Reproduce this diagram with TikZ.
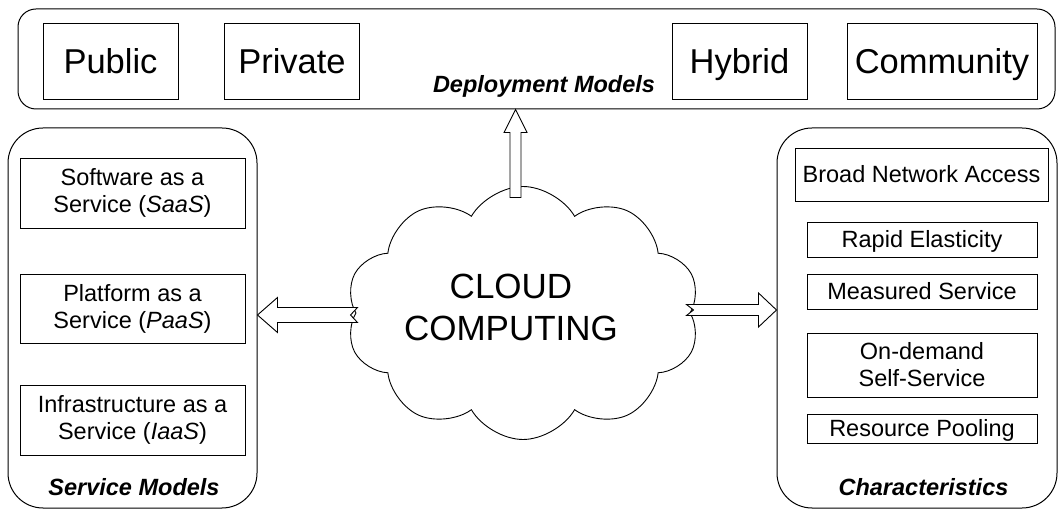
\documentclass[tikz,border=0pt]{standalone}
\usepackage{fontspec}
\setmainfont{Liberation Sans}
\usetikzlibrary{shapes.symbols}
\tikzstyle{panel}=[draw, line width=1pt]
\tikzstyle{itemBox}=[draw, line width=0.9pt, inner sep=0pt, align=center, font=\fontsize{23.5}{27}\selectfont]
\tikzstyle{oneLine}=[itemBox, text height=17pt, text depth=0pt]
\tikzstyle{depBox}=[itemBox, minimum height=76pt, text height=25pt, text depth=0pt, font=\fontsize{34.5}{40}\selectfont]
\tikzstyle{panelTitle}=[anchor=base, inner sep=0pt, font=\fontsize{23.5}{27}\selectfont\bfseries\itshape]
\tikzstyle{blockArrow}=[draw, fill=white, line width=0.9pt]
\newcommand{\dep}[4]{\node[depBox, minimum width=#3pt] (#1) at (#2,61) {#4}}
\newcommand{\chr}[4]{\node[oneLine, minimum width=230pt, minimum height=#3pt] (#1) at (922,#2) {#4}}

\begin{document}
\begin{tikzpicture}[x=1pt,y=-1pt]
       \useasboundingbox (0,0) rectangle (1058,510);
       % deployment models
       \node[panel, rounded corners=18pt, minimum width=1037pt, minimum height=100pt] (depl) at (536.5,59) {};
       \dep{pub}{110.5}{135}{Public};
       \dep{priv}{292}{135}{Private};
       \dep{hyb}{739.5}{135}{Hybrid};
       \dep{comm}{942}{190}{Community};
       \node[panelTitle] (deplT) at (544,93) {Deployment Models};
       % service models
       \node[panel, rounded corners=35pt, minimum width=249pt, minimum height=380pt] (svc) at (132.5,318) {};
       \node[itemBox, minimum width=225pt, minimum height=70pt] (saas) at (132.5,193) {Software as a\\Service (\textit{SaaS})};
       \node[itemBox, minimum width=225pt, minimum height=69pt] (paas) at (132.5,309) {Platform as a\\Service (\textit{PaaS})};
       \node[itemBox, minimum width=225pt, minimum height=70pt] (iaas) at (132.5,420) {Infrastructure as a\\Service (\textit{IaaS})};
       \node[panelTitle] (svcT) at (134,495) {Service Models};
       % characteristics
       \node[panel, rounded corners=35pt, minimum width=280pt, minimum height=380pt] (chr) at (917,318) {};
       \node[oneLine, minimum width=253pt, minimum height=53pt] (broad) at (921.5,174.5) {Broad Network Access};
       \chr{rapid}{239.5}{35}{Rapid Elasticity};
       \chr{meas}{291.5}{35}{Measured Service};
       \node[itemBox, minimum width=230pt, minimum height=64pt] (ondem) at (922,365) {On-demand\\Self-Service};
       \chr{pool}{428.5}{29}{Resource Pooling};
       \node[panelTitle] (chrT) at (923.5,495) {Characteristics};
       % cloud
       \node[cloud, draw, line width=0.9pt, cloud puffs=10, cloud puff arc=120, aspect=1.4,
             minimum width=354pt, minimum height=253pt] (cld) at (523,313) {};
       \node[align=center, font=\fontsize{35}{42}\selectfont] (cldT) at (511,307) {CLOUD\\COMPUTING};
       % arrows
       \coordinate (upTip) at (depl.south -| 515.5,0);
       \coordinate (leftTip) at (svc.east |- 0,315);
       \coordinate (rightTip) at (chr.west |- 0,310);
       \draw[blockArrow] (upTip) -- ++(11.5,23) -- ++(-6,0) -- ++(0,65) -- ++(-11,0) -- ++(0,-65) -- ++(-6,0) -- cycle;
       \draw[blockArrow] (leftTip) -- ++(20,-17.5) -- ++(0,10) -- ++(80,0) -- ++(-7,7.5) -- ++(7,7.5) -- ++(-80,0) -- ++(0,10) -- cycle;
       \draw[blockArrow] (rightTip) -- ++(-18,-17) -- ++(0,11.5) -- ++(-72,0) -- ++(7,5.5) -- ++(-7,5.5) -- ++(72,0) -- ++(0,11.5) -- cycle;
     \end{tikzpicture}
\end{document}
